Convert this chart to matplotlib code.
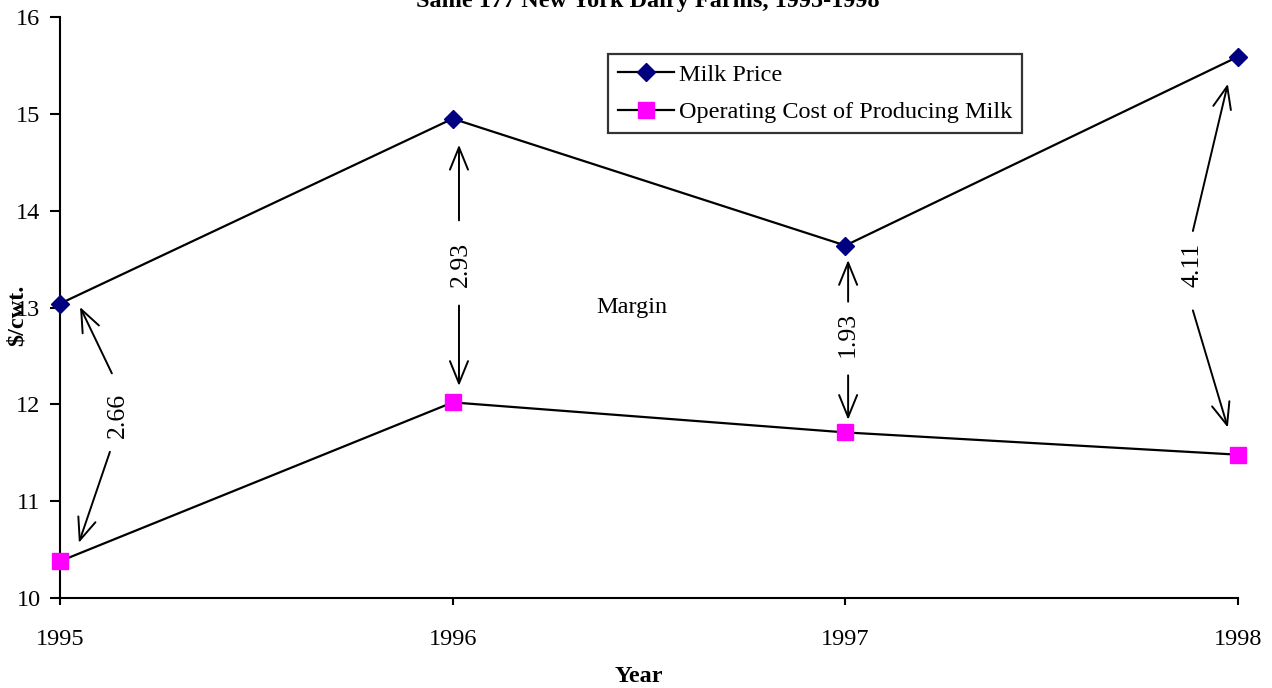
import matplotlib.pyplot as plt

plt.rcParams['font.family'] = ['Liberation Serif', 'DejaVu Serif']

years = [1995, 1996, 1997, 1998]
milk_price = [13.04, 14.95, 13.64, 15.59]
operating_cost = [10.38, 12.02, 11.71, 11.48]
margin_labels = ['2.66', '2.93', '1.93', '4.11']

fig = plt.figure(figsize=(12.72, 6.88), dpi=100)
ax = fig.add_axes([0.0472, 0.1308, 0.9261, 0.8445])

ax.plot(years, milk_price, color='black', lw=1.6, marker='D', ms=9,
        mfc='#000080', mec='#000080', clip_on=False, zorder=3, label='Milk Price')
ax.plot(years, operating_cost, color='black', lw=1.6, marker='s', ms=11,
        mfc='#ff00ff', mec='#ff00ff', clip_on=False, zorder=3,
        label='Operating Cost of Producing Milk')

ax.set_xlim(1995, 1998)
ax.set_ylim(10, 16)
ax.set_xticks(years)
ax.set_yticks(range(10, 17))

for s in ['top', 'right']:
    ax.spines[s].set_visible(False)
for s in ['left', 'bottom']:
    ax.spines[s].set_linewidth(1.5)
ax.tick_params(axis='y', direction='out', length=7, width=1.5, pad=7, labelsize=17.5)
ax.tick_params(axis='x', direction='out', length=5, width=1.5, pad=17, labelsize=17.5)

ax.set_xlabel('Year', fontsize=17.5, fontweight='bold')
ax.xaxis.set_label_coords(0.491, -0.117)
ax.set_ylabel('$/cwt.', fontsize=17.5, fontweight='bold')
ax.yaxis.set_label_coords(-0.0275, 0.487)

# margin labels with arrows from the label to each point
label_pos = [(1995.148, 11.89), (1996.02, 13.44), (1997.007, 12.72), (1997.883, 13.44)]
up_start = [(1995.132, 12.32), (1996.016, 13.90), (1997.007, 13.06), (1997.885, 13.79)]
up_head = [(1995.051, 13.005), (1996.016, 14.68), (1997.007, 13.49), (1997.974, 15.31)]
dn_start = [(1995.127, 11.51), (1996.016, 13.02), (1997.007, 12.30), (1997.885, 12.97)]
dn_head = [(1995.048, 10.57), (1996.016, 12.19), (1997.007, 11.84), (1997.974, 11.76)]

arrow = dict(arrowstyle='->,head_length=1.6,head_width=0.65', color='black', lw=1.4,
             shrinkA=0, shrinkB=0)
for lab, p, us, uh, ds, dh in zip(margin_labels, label_pos, up_start, up_head, dn_start, dn_head):
    ax.text(p[0], p[1], lab, rotation=90, ha='center', va='center', fontsize=18.5)
    ax.annotate('', xy=uh, xytext=us, arrowprops=arrow, annotation_clip=False)
    ax.annotate('', xy=dh, xytext=ds, arrowprops=arrow, annotation_clip=False)

ax.text(1996.457, 13.0, 'Margin', ha='center', va='center', fontsize=17.5)

leg = ax.legend(loc='upper left', bbox_to_anchor=(0.4652, 0.9366), fontsize=17.5,
                frameon=True, fancybox=False, edgecolor='black', borderpad=0.4,
                handlelength=2.3, handletextpad=0.2, labelspacing=0.65, borderaxespad=0)
leg.get_frame().set_linewidth(1.6)

fig.text(0.509, 1 - 7 / 688, 'Same 177 New York Dairy Farms, 1995-1998', ha='center',
         va='baseline', fontsize=17.5, fontweight='bold')

fig.savefig('out.png', dpi=100)
